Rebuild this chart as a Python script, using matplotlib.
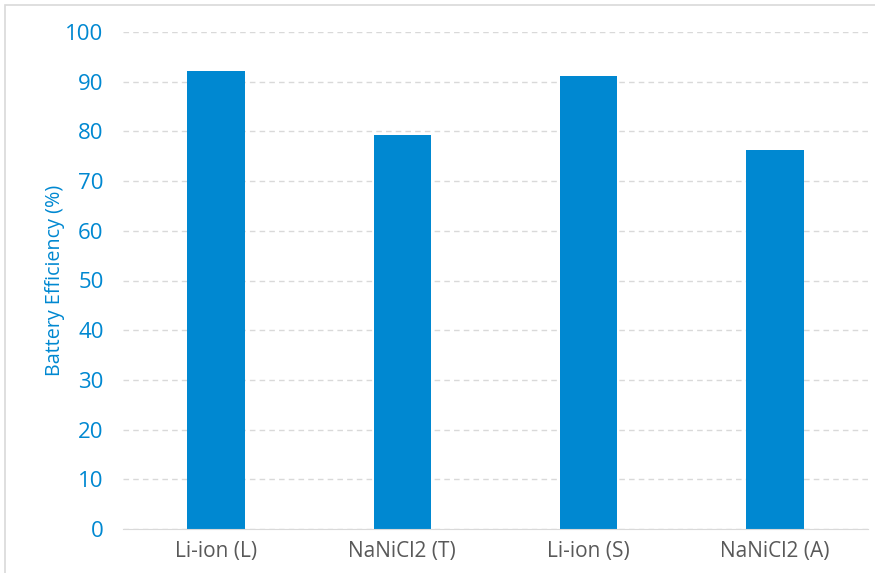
import matplotlib.pyplot as plt
from matplotlib.patches import Rectangle

categories = ['Li-ion (L)', 'NaNiCl2 (T)', 'Li-ion (S)', 'NaNiCl2 (A)']
efficiency = [92.1, 79.3, 91.2, 76.2]
y_ticks = [0, 10, 20, 30, 40, 50, 60, 70, 80, 90, 100]

blue = '#0088d1'
plt.rcParams['font.family'] = ['Open Sans', 'DejaVu Sans']

fig = plt.figure(figsize=(8.75, 5.73), dpi=100)
ax = fig.add_axes([123 / 875, 1 - 529 / 573, 745 / 875, 497 / 573])

# light frame around the chart area
fig.patches.append(Rectangle((5 / 875, -0.05), 1.0, 1 - 5 / 573 + 0.05,
                             transform=fig.transFigure, fill=False,
                             ec='#d9d9d9', lw=1.2))

x = range(len(categories))
ax.bar(x, efficiency, width=0.31, color=blue, zorder=3)

ax.set_xlim(-0.5, 3.5)
ax.set_ylim(0, 100)
ax.set_yticks(y_ticks)
ax.set_xticks(list(x))
ax.set_xticklabels(categories, fontsize=15, color='#595959')
ax.tick_params(axis='y', labelsize=16, labelcolor=blue, length=0, pad=14)
ax.tick_params(axis='x', length=0, pad=9)

ax.yaxis.grid(True, color='#d9d9d9', linestyle=(0, (4, 3)), lw=1, zorder=0)
for s in ['top', 'right', 'left']:
    ax.spines[s].set_visible(False)
ax.spines['bottom'].set_color('#d9d9d9')
ax.spines['bottom'].set_zorder(4)

ax.set_ylabel('Battery Efficiency (%)', fontsize=14.2, color=blue, labelpad=0)

plt.savefig('out.png', dpi=100)
